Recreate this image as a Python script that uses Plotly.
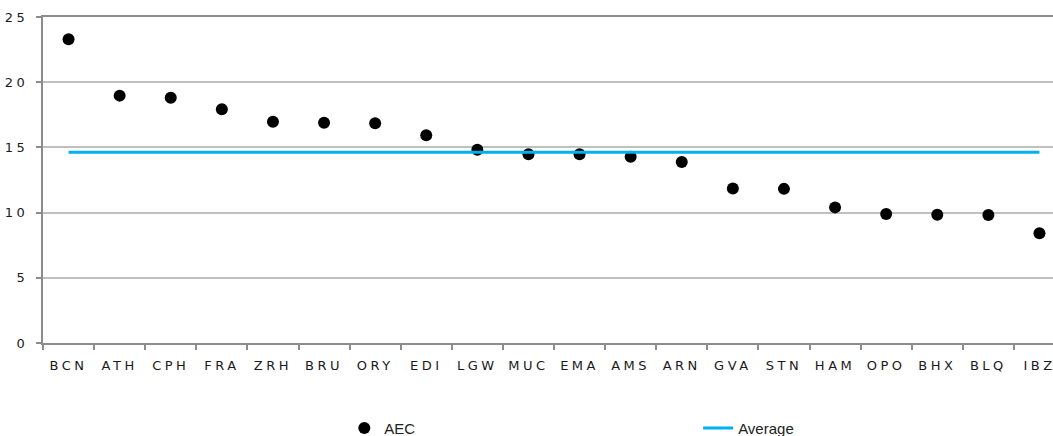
import plotly.graph_objects as go

airports = ["BCN", "ATH", "CPH", "FRA", "ZRH", "BRU", "ORY", "EDI", "LGW", "MUC",
            "EMA", "AMS", "ARN", "GVA", "STN", "HAM", "OPO", "BHX", "BLQ", "IBZ"]
aec = [23.3, 18.97, 18.81, 17.92, 16.97, 16.89, 16.85, 15.93, 14.82, 14.47,
       14.47, 14.29, 13.88, 11.85, 11.82, 10.4, 9.9, 9.83, 9.82, 8.42]
average = [14.62] * 20
y_ticks = [0, 5, 10, 15, 20, 25]

axis_col = "#8c8c8c"
grid_col = "#c0c0c0"
tick_font = dict(family="DejaVu Sans", size=13, color="#1a1a1a")
legend_font = dict(family="Liberation Sans", size=15, color="#222")

fig = go.Figure()
fig.add_trace(go.Scatter(
    x=airports, y=aec, mode="markers", name="AEC",
    marker=dict(color="black", size=12, symbol="circle"),
    legend="legend", cliponaxis=False,
))
fig.add_trace(go.Scatter(
    x=airports, y=average, mode="lines", name="Average",
    line=dict(color="#00B0F0", width=3),
    legend="legend2",
))

fig.update_layout(
    width=1053, height=436,
    margin=dict(l=43, r=0, t=17, b=93, autoexpand=False),
    paper_bgcolor="white", plot_bgcolor="white",
    showlegend=True,
    legend=dict(x=0.327, y=0.018, xref="container", yref="container",
                xanchor="left", yanchor="middle",
                font=legend_font, bgcolor="rgba(0,0,0,0)"),
    legend2=dict(x=0.663, y=0.018, xref="container", yref="container",
                 xanchor="left", yanchor="middle",
                 font=legend_font, bgcolor="rgba(0,0,0,0)"),
    xaxis=dict(
        type="category", range=[-0.5, 19.265], automargin=False,
        showline=True, linecolor=axis_col, linewidth=2, mirror=True,
        showgrid=False, zeroline=False,
        ticks="outside", ticklen=5, tickcolor=axis_col, tickwidth=1.5,
        tickson="boundaries", ticklabelstandoff=9,
        tickfont=tick_font,
    ),
    yaxis=dict(
        range=[0, 25], tickvals=y_ticks, automargin=False,
        showline=True, linecolor=axis_col, linewidth=2,
        showgrid=True, gridcolor=grid_col, gridwidth=1.5,
        zeroline=False,
        ticks="outside", ticklen=5, tickcolor=axis_col, tickwidth=1.5,
        tickfont=tick_font, ticklabelstandoff=5,
    ),
)

post = """
document.body.style.margin = '0';
document.body.style.overflow = 'hidden';
var s = document.createElement('style');
s.innerHTML = '.xtick text, .ytick text { letter-spacing: 3.5px; }';
document.head.appendChild(s);
"""
fig.write_html("out.html", post_script=post, config={"displayModeBar": False})
